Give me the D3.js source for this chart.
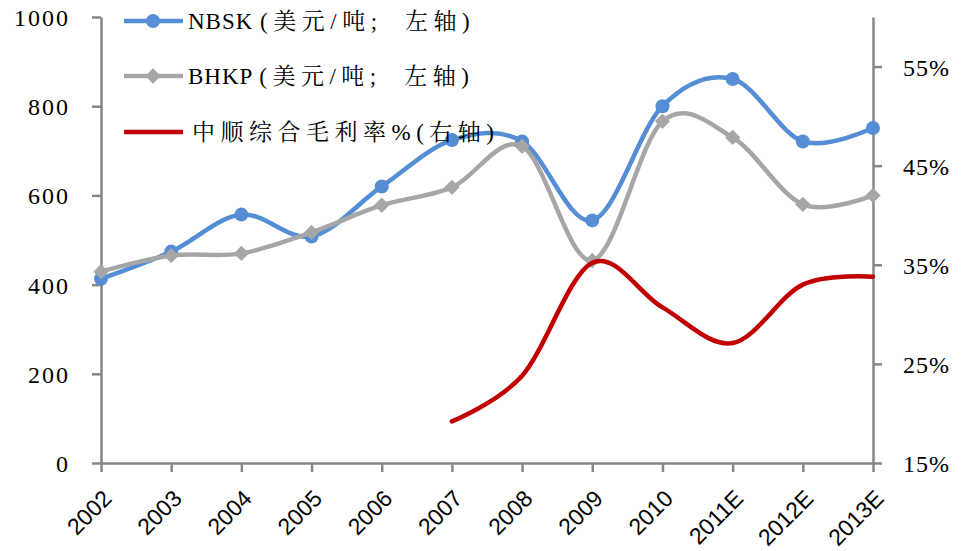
<!DOCTYPE html>
<meta charset="utf-8">
<style>
body { margin: 0; background: #fff; }
svg { display: block; }
.axis path, .axis line { stroke: #868686; stroke-width: 2.5; }
.ylab { font-family: "Liberation Serif", "DejaVu Serif", "Noto Serif CJK SC", serif; font-size: 24px; fill: #000; }
.xlab { font-family: "Liberation Sans", Arial, sans-serif; font-size: 23px; fill: #000; }
.leg { font-family: "Liberation Serif", "DejaVu Serif", "Noto Serif CJK SC", "Noto Sans CJK SC", serif; font-size: 23px; fill: #000; }
</style>
<svg width="966" height="551"></svg>
<script src="https://d3js.org/d3.v7.min.js"></script>
<script>
"use strict";

// data
var years = ["2002","2003","2004","2005","2006","2007","2008","2009","2010","2011E","2012E","2013E"];
var nbsk = [413, 474, 557, 508, 620, 724, 721, 544, 800, 861, 721, 751];
var bhkp = [429, 465, 470, 517, 578, 618, 710, 454, 766, 730, 580, 600];
// 中顺综合毛利率 (%), from 2007
var margin = [null, null, null, null, null, 19.2, 23.8, 35.2, 30.7, 27.1, 33.0, 33.8];

var leftTicks = [0, 200, 400, 600, 800, 1000];
var rightTicks = [15, 25, 35, 45, 55];
var legendHead = ["NBSK ", "BHKP ", ""];
var legendTail = ["(美元/吨;  左轴)", "(美元/吨;  左轴)", "中顺综合毛利率%(右轴)"];

var svg = d3.select("svg");
var x0 = 101, x1 = 873, yTop = 17, yBot = 463;

var x = d3.scalePoint().domain(years).range([x0, x1]);
var yL = d3.scaleLinear().domain([0, 1000]).range([yBot, yTop]);
var yR = d3.scaleLinear().domain([15, 60]).range([yBot, yTop]);

// axes
svg.append("g").attr("class", "axis")
  .attr("transform", "translate(" + x0 + ",0)")
  .call(d3.axisLeft(yL).tickValues(leftTicks).tickSize(9).tickSizeOuter(0).tickFormat(""));

svg.append("g").attr("class", "axis")
  .attr("transform", "translate(" + x1 + ",0)")
  .call(d3.axisRight(yR).tickValues(rightTicks).tickSize(9).tickSizeOuter(0).tickFormat(""));

svg.append("g").attr("class", "axis")
  .attr("transform", "translate(0," + yBot + ")")
  .call(d3.axisBottom(x).tickSize(9).tickSizeOuter(0).tickFormat(""));

// left labels
svg.append("g").selectAll("text").data(leftTicks).enter().append("text")
  .attr("class", "ylab")
  .attr("x", 70).attr("y", function(d) { return yL(d) + 9; })
  .attr("text-anchor", "end")
  .attr("letter-spacing", 2)
  .text(function(d) { return d; });

// right labels
svg.append("g").selectAll("text").data(rightTicks).enter().append("text")
  .attr("class", "ylab")
  .attr("x", 903).attr("y", function(d) { return yR(d) + 9; })
  .attr("letter-spacing", 1)
  .text(function(d) { return d + "%"; });

// x labels
svg.append("g").selectAll("text").data(years).enter().append("text")
  .attr("class", "xlab")
  .attr("text-anchor", "end")
  .attr("transform", function(d) { return "translate(" + (x(d) + 12) + ",500) rotate(-45)"; })
  .text(function(d) { return d; });

// series
var smooth = d3.curveCardinal.tension(0);

function drawLine(vals, scale, color) {
  var line = d3.line()
    .defined(function(d) { return d != null; })
    .x(function(d, i) { return x(years[i]); })
    .y(function(d) { return scale(d); })
    .curve(smooth);
  svg.append("path")
    .attr("d", line(vals))
    .attr("fill", "none")
    .attr("stroke", color)
    .attr("stroke-width", 4.5)
    .attr("stroke-linecap", "round");
}

var blue = "#558ED5", gray = "#A6A6A6", red = "#C00000";
var diamond = d3.symbol().type(d3.symbolDiamond2).size(150);

drawLine(nbsk, yL, blue);
svg.append("g").selectAll("circle").data(nbsk).enter().append("circle")
  .attr("cx", function(d, i) { return x(years[i]); })
  .attr("cy", function(d) { return yL(d); })
  .attr("r", 7)
  .attr("fill", blue);

drawLine(bhkp, yL, gray);
svg.append("g").selectAll("path").data(bhkp).enter().append("path")
  .attr("d", diamond)
  .attr("transform", function(d, i) { return "translate(" + x(years[i]) + "," + yL(d) + ")"; })
  .attr("fill", gray);

drawLine(margin, yR, red);

// legend
var legY = [21, 76, 132];
var lg = svg.append("g");
legendTail.forEach(function(tail, i) {
  var c = [blue, gray, red][i];
  lg.append("line")
    .attr("x1", 124).attr("x2", 183).attr("y1", legY[i]).attr("y2", legY[i])
    .attr("stroke", c).attr("stroke-width", 4.5);
  if (i == 0) {
    lg.append("circle").attr("cx", 153).attr("cy", legY[i]).attr("r", 7).attr("fill", c);
  } else if (i == 1) {
    lg.append("path").attr("d", diamond)
      .attr("transform", "translate(153," + legY[i] + ")")
      .attr("fill", c);
  }
  var t = lg.append("text")
    .attr("class", "leg")
    .attr("x", i == 2 ? 192 : 188)
    .attr("y", legY[i] + 8);
  t.append("tspan").attr("letter-spacing", 1).text(legendHead[i]);
  t.append("tspan").attr("letter-spacing", 5.5).attr("xml:space", "preserve").text(tail);
});
</script>
